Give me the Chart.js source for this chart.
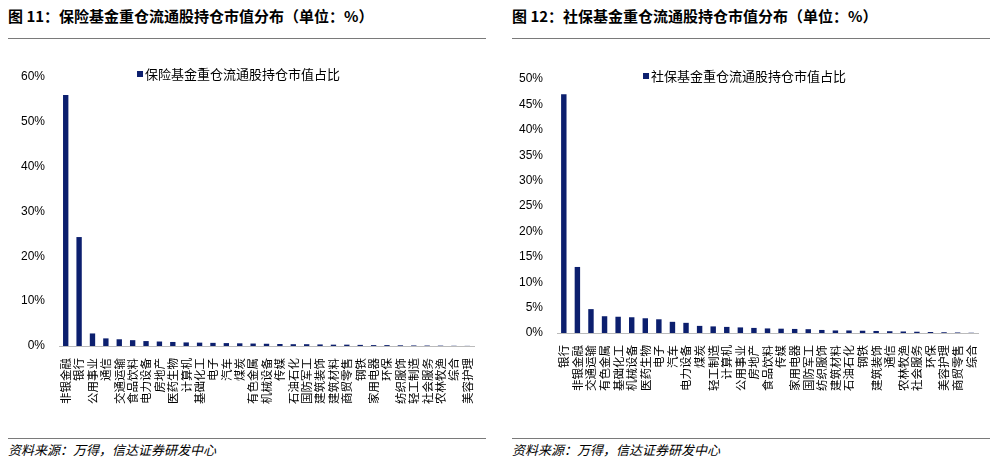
<!DOCTYPE html><html><head><meta charset="utf-8">
<script src="https://cdn.jsdelivr.net/npm/chart.js@4"></script>
<style>
body{margin:0;width:997px;height:463px;background:#fff;font-family:"Noto Sans CJK SC";position:relative;overflow:hidden}
.t{position:absolute;top:5px;font-size:15px;font-weight:bold;color:#000}
.hl{position:absolute;top:38px;height:1px;background:#7a7a7a}
.src{position:absolute;top:440px;font-size:13px;font-style:italic;color:#000}
.sl{position:absolute;top:438px;height:1px;background:#7a7a7a}
.c{position:absolute;top:52px}
</style></head><body>
<div class="t" style="left:8px">图 11：保险基金重仓流通股持仓市值分布（单位：%）</div>
<div class="t" style="left:512px">图 12：社保基金重仓流通股持仓市值分布（单位：%）</div>
<div class="hl" style="left:8px;width:478px"></div>
<div class="hl" style="left:512px;width:478px"></div>
<div class="c" style="left:8px;width:478px;height:356px"><canvas id="a"></canvas></div>
<div class="c" style="left:512px;width:478px;height:343px"><canvas id="b"></canvas></div>
<div class="sl" style="left:8px;width:478px"></div>
<div class="sl" style="left:512px;width:478px"></div>
<div class="src" style="left:8px">资料来源：万得，信达证券研发中心</div>
<div class="src" style="left:512px">资料来源：万得，信达证券研发中心</div>
<script>
const catsA=["非银金融","银行","公用事业","通信","交通运输","食品饮料","电力设备","房地产","医药生物","计算机","基础化工","电子","汽车","煤炭","有色金属","机械设备","传媒","石油石化","国防军工","建筑装饰","建筑材料","商贸零售","钢铁","家用电器","环保","纺织服饰","轻工制造","社会服务","农林牧渔","综合","美容护理"];
const valsA=[56,24.3,2.8,1.7,1.5,1.3,1.1,1.0,0.9,0.8,0.75,0.7,0.65,0.6,0.55,0.5,0.45,0.4,0.4,0.35,0.3,0.3,0.25,0.2,0.2,0.15,0.12,0.1,0.08,0.05,0.03];
const catsB=["银行","非银金融","交通运输","有色金属","基础化工","机械设备","医药生物","电子","汽车","电力设备","煤炭","轻工制造","计算机","公用事业","房地产","食品饮料","传媒","家用电器","国防军工","纺织服饰","建筑材料","石油石化","钢铁","建筑装饰","通信","农林牧渔","社会服务","环保","美容护理","商贸零售","综合"];
const valsB=[47,13,4.7,3.3,3.2,3.1,2.9,2.7,2.2,2.0,1.4,1.3,1.2,1.1,1.0,0.9,0.85,0.8,0.75,0.6,0.5,0.5,0.45,0.4,0.35,0.3,0.25,0.2,0.15,0.1,0.05];
const ticksA=[0,10,20,30,40,50,60], ticksB=[0,5,10,15,20,25,30,35,40,45,50];
const NAVY='#0c1f6e';
const legPlug={id:'leg',afterDraw(c,a,o){const x=c.chartArea.left+o.dx,y=c.chartArea.top+o.dy,ctx=c.ctx;
 ctx.save();ctx.fillStyle=NAVY;ctx.fillRect(x,y-3,6,6);ctx.fillStyle='#000';ctx.font='13px "Noto Sans CJK SC"';ctx.textBaseline='middle';ctx.fillText(o.text,x+8,y);ctx.restore();}};
function mk(id,cats,vals,label,ticks,dx,dy,padL,padT){
 new Chart(document.getElementById(id),{type:'bar',plugins:[legPlug],
  data:{labels:cats,datasets:[{label:label,data:vals,backgroundColor:NAVY,barPercentage:0.4,categoryPercentage:1}]},
  options:{responsive:true,maintainAspectRatio:false,animation:false,
   layout:{padding:{left:padL,right:12,top:padT,bottom:0}},
   plugins:{legend:{display:false},tooltip:{enabled:false},leg:{text:label,dx:dx,dy:dy}},
   scales:{x:{grid:{display:false},border:{color:'#bbb'},ticks:{autoSkip:false,maxRotation:90,minRotation:90,padding:4,color:'#000',font:{family:'Noto Sans CJK SC',size:11.5}}},
    y:{min:ticks[0],max:ticks[ticks.length-1],afterBuildTicks:s=>{s.ticks=ticks.map(v=>({value:v}));},grid:{display:false},border:{display:false},ticks:{padding:6,color:'#000',font:{size:12,family:'Liberation Sans'},callback:v=>v+'%'}}}}});
}
mk('a',catsA,valsA,'保险基金重仓流通股持仓市值占比',ticksA,78,-3,7,25);
mk('b',catsB,valsB,'社保基金重仓流通股持仓市值占比',ticksB,86,-3,1,27);
</script></body></html>
